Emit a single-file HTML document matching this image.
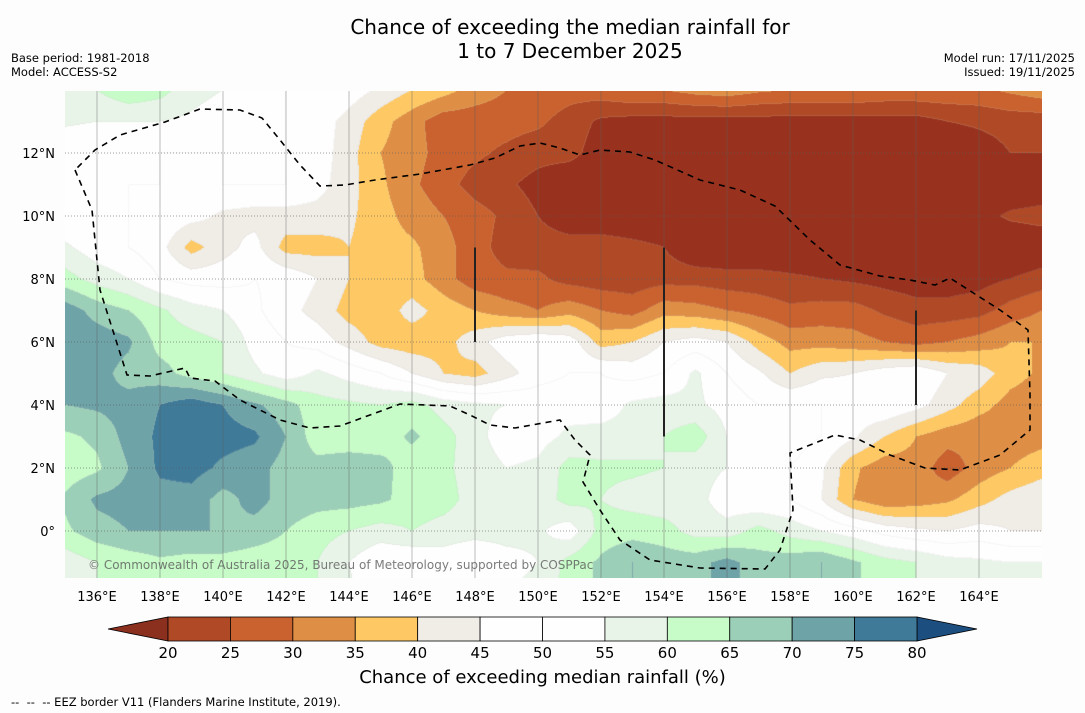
<!DOCTYPE html>
<html><head><meta charset="utf-8"><style>
body{margin:0;background:#fdfdfd;font-family:"DejaVu Sans","Liberation Sans",sans-serif;}
#wrap{position:relative;width:1085px;height:713px;overflow:hidden;background:#fdfdfd}
.t{position:absolute;white-space:nowrap;color:#000}
svg text{font-family:"DejaVu Sans","Liberation Sans",sans-serif}
</style></head><body>
<div id="wrap">
<div class="t" style="left:0;width:1140px;text-align:center;top:15px;font-size:20px;line-height:24px">Chance of exceeding the median rainfall for<br>1 to 7 December 2025</div>
<div class="t" style="left:11px;top:51px;font-size:11.5px;line-height:14px">Base period: 1981-2018<br>Model: ACCESS-S2</div>
<div class="t" style="right:10px;top:51px;font-size:11.5px;line-height:14px;text-align:right">Model run: 17/11/2025<br>Issued: 19/11/2025</div>
<canvas id="map" width="977" height="487" style="position:absolute;left:65px;top:91px"></canvas>
<svg id="ov" width="1085" height="713" style="position:absolute;left:0;top:0"></svg>
<div class="t" style="left:88px;top:558px;font-size:12px;color:rgba(90,90,90,0.8)">© Commonwealth of Australia 2025, Bureau of Meteorology, supported by COSPPac</div>
<div class="t" style="left:0;width:1085px;text-align:center;top:667px;font-size:18px">Chance of exceeding median rainfall (%)</div>
<div class="t" style="left:11px;top:695px;font-size:11.5px">-- &nbsp;-- &nbsp;-- EEZ border V11 (Flanders Marine Institute, 2019).</div>
</div>
<script>
const lons=[135,136,137,138,139,140,141,142,143,144,145,146,147,148,149,150,151,152,153,154,155,156,157,158,159,160,161,162,163,164,165,166];
const lats=[14,13,12,11,10,9,8,7,6,5,4,3,2,1,0,-1,-2];
const chanceRows=[
[58,60,64,62,57,55,52,50,50,48,44,40,37,33,30,28,27,28,30,30,32,33,31,30,30,30,29,29,29,29,31,33],
[56,55,55,55,54,52,50,50,48,43,37,32,27,27,27,26,23,19,18,18,18,18,18,18,18,18,18,18,20,21,22,22],
[50,50,50,50,50,50,50,50,48,42,35,32,28,26,24,22,22,17,15,15,15,15,15,15,15,15,15,15,15,17,20,20],
[50,50,50,50,48,50,50,50,47,42,36,31,27,23,21,18,15,15,15,15,15,15,15,15,15,15,15,15,15,15,15,16],
[50,50,50,49,47,44,43,43,43,41,37,33,30,27,24,20,17,17,17,17,17,17,17,17,17,17,17,17,17,18,21,22],
[56,52,50,47,38,43,47,38,38,40,37,36,32,27,23,22,22,22,21,20,15,15,15,15,15,15,15,15,15,15,15,16],
[62,58,55,50,48,48,50,49,45,40,36,37,32,27,26,26,23,22,22,23,23,22,22,21,20,19,18,17,17,18,20,22],
[73,68,65,61,57,55,51,47,43,38,37,42,38,35,32,30,33,30,28,33,32,30,28,26,27,27,24,22,22,23,27,30],
[73,73,71,63,62,60,53,50,48,43,38,37,38,43,48,50,48,38,40,45,47,45,38,33,33,32,30,28,30,32,35,35],
[72,72,68,67,63,60,56,52,56,53,50,45,40,38,43,48,50,50,48,50,56,50,46,40,44,45,48,50,45,43,37,34],
[70,71,72,75,78,75,71,67,62,61,60,62,58,56,55,53,53,52,56,57,56,53,50,50,50,48,50,47,42,37,33,32],
[64,66,72,76,77,77,76,70,62,62,62,66,62,57,52,53,56,57,57,60,63,55,52,53,50,46,40,35,32,31,32,33],
[62,64,70,76,77,74,72,68,67,68,67,62,61,58,55,56,62,61,61,60,57,55,53,50,46,36,32,33,27,32,35,38],
[66,71,72,73,73,68,72,68,67,67,66,63,62,58,55,57,62,60,58,57,57,52,50,50,45,35,31,32,34,38,42,44],
[64,68,70,70,70,70,68,65,62,60,58,60,58,57,57,56,52,62,63,62,58,57,62,58,55,52,48,46,45,47,45,45],
[57,60,62,64,63,63,62,62,60,55,50,50,52,50,53,55,62,66,70,68,68,72,67,68,70,66,62,60,57,56,55,55],
[56,60,62,64,64,64,62,62,60,56,52,52,54,52,55,57,62,66,70,68,68,72,67,68,70,66,62,60,57,56,55,55]];
const levels=[20,25,30,35,40,45,50,55,60,65,70,75,80];
const colors=["#98321f","#b04a26","#c9622f","#de8f45","#fec964","#f0ece6","#fefefe","#fefefe","#e9f4e8","#c7fbc8","#9ccfb8","#6ea3a7","#3f7a99","#1d4e80"];
const lonTicks=[136,138,140,142,144,146,148,150,152,154,156,158,160,162,164];
const latTicks=[0,2,4,6,8,10,12];

const X0=65.5,Y0=531,D=31.5;
function xOf(lon){return X0+(lon-135)*D;}
function yOf(lat){return Y0-lat*D;}
function lonOf(x){return 135+(x-X0)/D;}
function latOf(y){return (Y0-y)/D;}
function band(v){let b=0;while(b<levels.length&&v>=levels[b])b++;return b;}
function valAt(lon,lat){
  let fi=(lon-lons[0]);let fj=(lats[0]-lat);
  fi=Math.max(0,Math.min(lons.length-1.001,fi));fj=Math.max(0,Math.min(lats.length-1.001,fj));
  const i=Math.floor(fi),j=Math.floor(fj),a=fi-i,b=fj-j;
  const r0=chanceRows[j],r1=chanceRows[j+1];
  return (r0[i]*(1-a)+r0[i+1]*a)*(1-b)+(r1[i]*(1-a)+r1[i+1]*a)*b;
}
function hex(c){return [parseInt(c.substr(1,2),16),parseInt(c.substr(3,2),16),parseInt(c.substr(5,2),16)];}
const rgb=colors.map(hex);
(function(){
  const cv=document.getElementById('map');const ctx=cv.getContext('2d');
  const W=cv.width,H=cv.height;const img=ctx.createImageData(W,H);
  const B=new Uint8Array(W*H);
  for(let py=0;py<H;py++)for(let px=0;px<W;px++){
    B[py*W+px]=band(valAt(lonOf(px+65+0.5),latOf(py+91+0.5)));
  }
  for(let py=0;py<H;py++)for(let px=0;px<W;px++){
    const b=B[py*W+px];let c=rgb[b];
    const edge=(px+1<W&&B[py*W+px+1]!==b)||(py+1<H&&B[(py+1)*W+px]!==b);
    const k=(py*W+px)*4;
    if(edge){c=[Math.round(c[0]*0.85+30),Math.round(c[1]*0.85+30),Math.round(c[2]*0.85+30)];}
    img.data[k]=c[0];img.data[k+1]=c[1];img.data[k+2]=c[2];img.data[k+3]=255;
  }
  ctx.putImageData(img,0,0);
})();
const NS="http://www.w3.org/2000/svg";
const ov=document.getElementById('ov');
function mk(tag,attrs,parent){const e=document.createElementNS(NS,tag);for(const k in attrs)e.setAttribute(k,attrs[k]);(parent||ov).appendChild(e);return e;}
lonTicks.forEach(l=>{
  const ln=mk('line',{x1:xOf(l),x2:xOf(l),y1:91,y2:578,stroke:'rgba(90,90,90,0.4)','stroke-width':1});
  
  
  const t=mk('text',{x:xOf(l),y:601,'text-anchor':'middle','font-size':13});
  t.textContent=l+'°E';
  
  
});
latTicks.forEach(l=>{
  const ln=mk('line',{x1:65,x2:1042,y1:yOf(l),y2:yOf(l),stroke:'rgba(90,90,90,0.6)','stroke-width':1,'stroke-dasharray':'1,2'});
  
  
  const t=mk('text',{x:55,y:yOf(l)+5,'text-anchor':'end','font-size':13});
  t.textContent=l===0?'0°':l+'°N';
  
  
});
const eez=[[75,170],[92,210],[100,290],[127,375],[150,376],[185,368],[190,378],[215,381],[240,400],[280,420],[310,428],[340,426],[370,415],[400,404],[450,406],[470,415],[490,425],[515,428],[560,420],[575,440],[590,455],[583,482],[600,510],[620,540],[650,560],[700,568],[765,569],[780,550],[793,510],[790,453],[810,445],[835,435],[860,440],[890,455],[925,468],[960,470],[1000,455],[1030,430],[1030,395],[1028,330],[1000,310],[950,278],[935,285],[910,280],[880,276],[840,265],[810,240],[775,206],[740,190],[700,180],[655,160],[630,152],[600,150],[580,155],[560,148],[540,143],[520,146],[495,158],[470,165],[420,174],[375,180],[345,185],[320,186],[300,165],[280,140],[262,118],[240,110],[200,109],[165,122],[120,135],[95,150],[75,170]];
const pe=mk('path',{d:'M'+eez.map(p=>p.join(',')).join('L'),fill:'none',stroke:'#000','stroke-width':1.6,'stroke-dasharray':'6,5'});


[[148,9,6],[154,9,3],[162,7,4]].forEach(b=>{
  const l=mk('line',{x1:xOf(b[0]),x2:xOf(b[0]),y1:yOf(b[1]),y2:yOf(b[2]),stroke:'#222','stroke-width':2});
  
  
});
const cbX0=168,cbX1=917,cbY=617,cbH=24;
function cbx(v){return cbX0+(v-20)*(cbX1-cbX0)/60;}
const tl=mk('polygon',{points:`108,${cbY+cbH/2} ${cbX0},${cbY} ${cbX0},${cbY+cbH}`,fill:'#8b2f1f',stroke:'#000','stroke-width':0.8});


const tr=mk('polygon',{points:`977,${cbY+cbH/2} ${cbX1},${cbY} ${cbX1},${cbY+cbH}`,fill:'#1d4e80',stroke:'#000','stroke-width':0.8});


for(let i=0;i<levels.length-1;i++){
  const r=mk('rect',{x:cbx(levels[i]),y:cbY,width:cbx(levels[i+1])-cbx(levels[i]),height:cbH,fill:colors[i+1],stroke:'#000','stroke-width':0.8});
  
  
}
levels.forEach(v=>{
  const t=mk('text',{x:cbx(v),y:658,'text-anchor':'middle','font-size':15});
  t.textContent=v;
  
  
});
</script>
</body></html>
